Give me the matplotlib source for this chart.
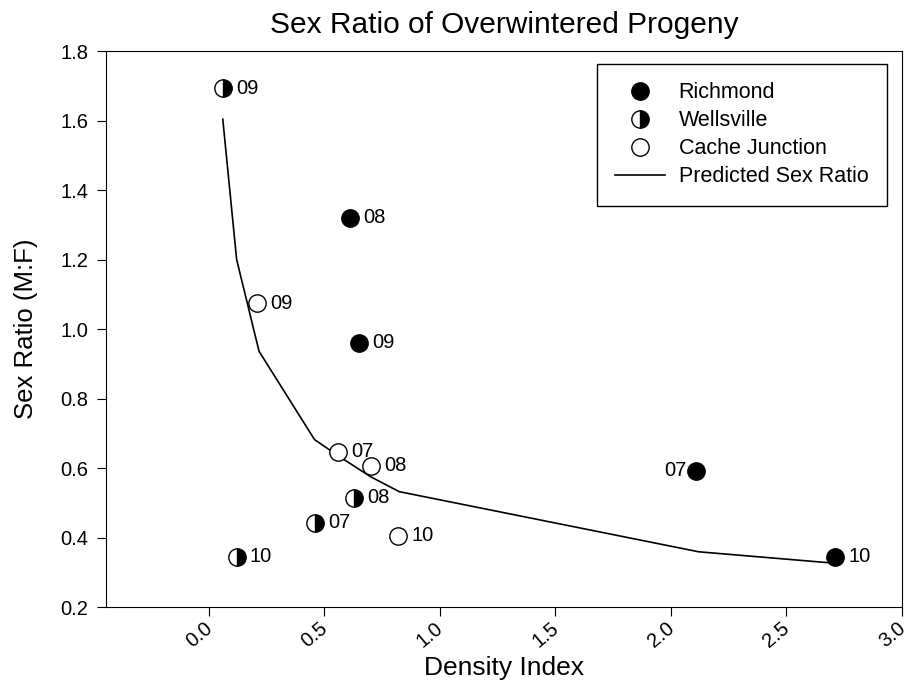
import matplotlib.pyplot as plt
import matplotlib.transforms as mtransforms

plt.rcParams['font.family'] = ['Liberation Sans', 'DejaVu Sans']

# observed sex ratios by site, with year labels
richmond_x = [0.61, 0.65, 2.11, 2.71]
richmond_y = [1.32, 0.96, 0.592, 0.344]
richmond_lab = ["08", "09", "07", "10"]

wells_x = [0.06, 0.63, 0.46, 0.12]
wells_y = [1.693, 0.514, 0.442, 0.344]
wells_lab = ["09", "08", "07", "10"]

cache_x = [0.21, 0.557, 0.70, 0.82]
cache_y = [1.074, 0.647, 0.607, 0.405]
cache_lab = ["09", "07", "08", "10"]

# predicted curve
pred_x = [0.06, 0.12, 0.217, 0.457, 0.56, 0.63, 0.70, 0.824, 2.12, 2.71]
pred_y = [1.604, 1.20, 0.936, 0.682, 0.635, 0.605, 0.575, 0.532, 0.359, 0.326]

xticks = [0.0, 0.5, 1.0, 1.5, 2.0, 2.5, 3.0]
yticks = [0.2, 0.4, 0.6, 0.8, 1.0, 1.2, 1.4, 1.6, 1.8]

fig = plt.figure(figsize=(9.05, 6.87), dpi=100)
ax = fig.add_axes([0.117, 0.1164, 0.8796, 0.8093])

ax.plot(pred_x, pred_y, color="black", lw=1.2, label="Predicted Sex Ratio", zorder=1)
ax.plot(richmond_x, richmond_y, "o", ms=12.5, color="black", label="Richmond",
        ls="none", zorder=3)
ax.plot(wells_x, wells_y, "o", ms=12.5, ls="none", fillstyle="right",
        markerfacecolor="black", markerfacecoloralt="white", markeredgecolor="black",
        mew=1, label="Wellsville", zorder=3)
ax.plot(cache_x, cache_y, "o", ms=12.5, ls="none", markerfacecolor="white",
        markeredgecolor="black", mew=1, label="Cache Junction", zorder=3)

for xs, ys, labs in [(richmond_x, richmond_y, richmond_lab),
                     (wells_x, wells_y, wells_lab),
                     (cache_x, cache_y, cache_lab)]:
    for x, y, t in zip(xs, ys, labs):
        if t == "07" and xs is richmond_x:
            ax.annotate(t, (x, y), xytext=(-7, 0), textcoords="offset points",
                        ha="right", va="center", fontsize=14.5)
        else:
            ax.annotate(t, (x, y), xytext=(9.5, 0), textcoords="offset points",
                        ha="left", va="center", fontsize=14.5)

ax.set_xlim(-0.446, 3.0)
ax.set_ylim(0.2, 1.8)
ax.set_xticks(xticks)
ax.set_xticklabels([f"{v:.1f}" for v in xticks], rotation=40, ha="right")
ax.set_yticks(yticks)
ax.set_yticklabels([f"{v:.1f}" for v in yticks])
ax.tick_params(direction="out", length=6.5, labelsize=14.5, top=False, right=False)
ax.tick_params(axis="x", pad=2)
ax.tick_params(axis="y", pad=6)
shift = mtransforms.ScaledTranslation(5 / 72, 0, fig.dpi_scale_trans)
for lab in ax.get_xticklabels():
    lab.set_transform(lab.get_transform() + shift)

ax.set_xlabel("Density Index", fontsize=19, labelpad=3)
ax.set_ylabel("Sex Ratio (M:F)", fontsize=18.5, labelpad=16)
ax.set_title("Sex Ratio of Overwintered Progeny", fontsize=21.5, pad=13)

h, l = ax.get_legend_handles_labels()
order = [1, 2, 3, 0]
leg = ax.legend([h[i] for i in order], [l[i] for i in order], loc="upper right",
                bbox_to_anchor=(0.981, 0.977), borderaxespad=0, fontsize=15.5,
                fancybox=False, edgecolor="black", framealpha=1,
                handlelength=2.3, handletextpad=0.65, borderpad=0.85,
                labelspacing=0.33)
leg.get_frame().set_linewidth(1)

fig.savefig("out.png", dpi=100)
